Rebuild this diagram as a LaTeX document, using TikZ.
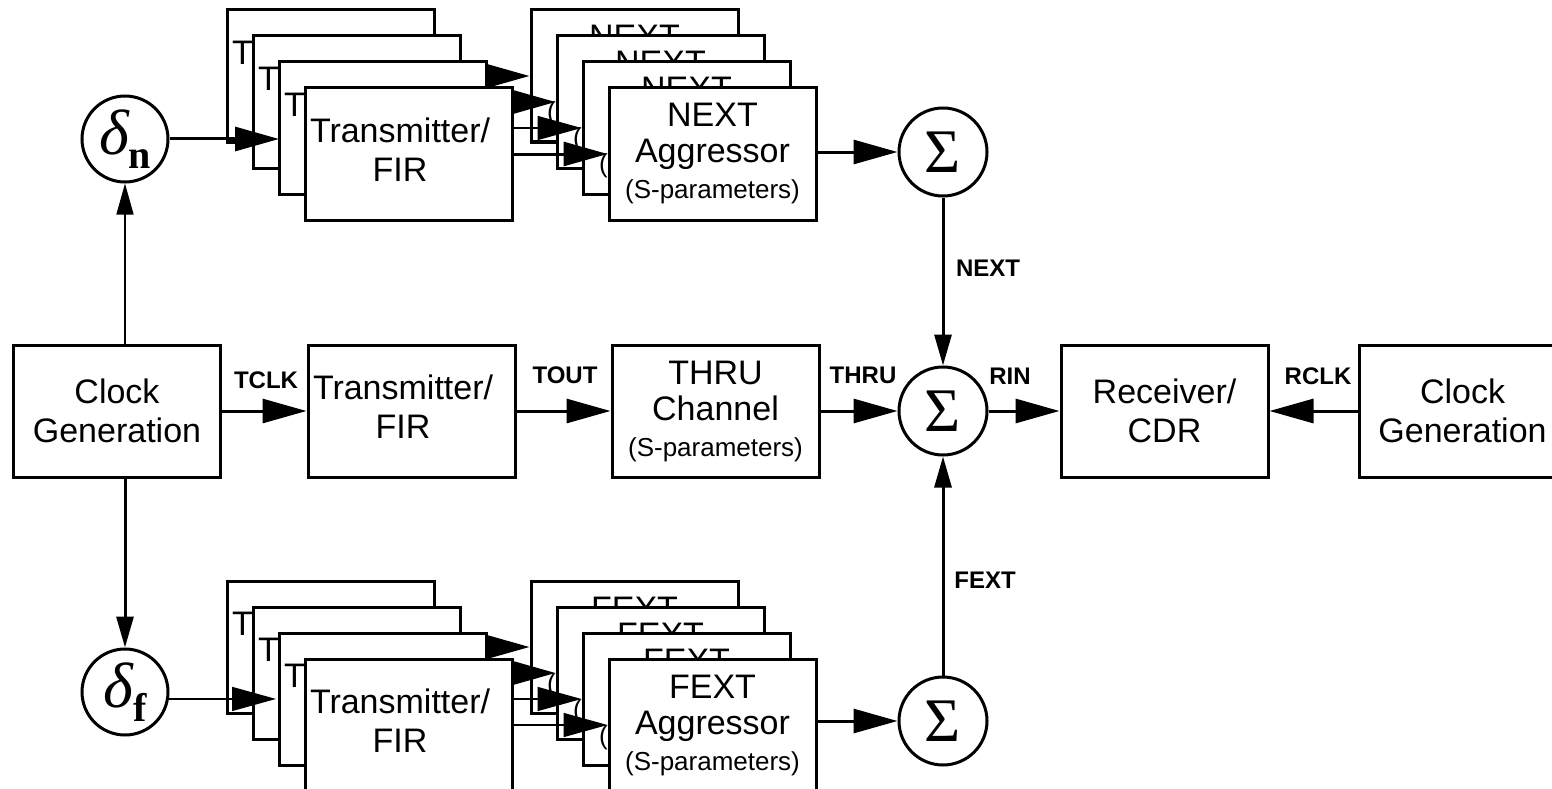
\documentclass[tikz,border=0pt]{standalone}
\usepackage{fontspec}
\setmainfont{Liberation Sans}
\newfontfamily\grk{Liberation Serif}
\usetikzlibrary{arrows.meta}
\newcommand{\sparfont}{\fontsize{26}{30}\selectfont}
\newcommand{\txtext}{\begin{tabular}{@{}c@{}}Transmitter/\\FIR\end{tabular}}
\newcommand{\dltext}[1]{{\itshape δ}\raisebox{-14pt}{\bfseries\fontsize{40}{40}\selectfont #1}}

\begin{document}
\begin{tikzpicture}[x=1pt, y=-1pt,
		blk/.style={draw, line width=3pt, fill=white, minimum width=207pt, minimum height=132pt, inner sep=0pt, align=center, font=\fontsize{34}{39}\selectfont},
		agg/.style={blk, font=\fontsize{34}{36}\selectfont},
		tx/.style={blk, text width=197pt, align=left},
		summ/.style={draw, circle, line width=3pt, fill=white, minimum size=88pt, inner sep=0pt, font=\grk\fontsize{62}{62}\selectfont},
		dlt/.style={summ, minimum size=86pt, font=\grk\fontsize{64}{64}\selectfont},
		sig/.style={font=\bfseries\fontsize{24}{24}\selectfont},
		arr/.style={line width=3pt, -{Triangle[length=44pt,width=24pt]}},
		varr/.style={line width=3pt, -{Triangle[length=31pt,width=17pt]}},
		lite/.style={line width=1.5pt}
	]
	\useasboundingbox (0,0) rectangle (1552,789);

	% through path
	\node[blk] (clkL) at (117,411) {Clock\\Generation};
	\node[tx] (txM) at (411.5,411) {\txtext};
	\node[agg] (thru) at (715.5,411) {THRU\\Channel\\{\sparfont (S-parameters)}};
	\node[summ] (sumM) at (943,411) {Σ};
	\node[blk] (rx) at (1164.5,411) {Receiver/\\CDR};
	\node[blk] (clkR) at (1462.5,411) {Clock\\Generation};

	\draw[arr] (clkL) -- (txM);
	\draw[arr] (txM) -- (thru);
	\draw[arr] (thru) -- (sumM);
	\draw[arr] (sumM) -- (rx);
	\draw[arr] (clkR) -- (rx);

	\node[sig] (tclk) at (266,380) {TCLK};
	\node[sig] (tout) at (565,375) {TOUT};
	\node[sig] (thrul) at (863,375) {THRU};
	\node[sig] (rin) at (1010,376) {RIN};
	\node[sig] (rclk) at (1318,376) {RCLK};

	% NEXT aggressors
	\node[dlt] (dn) at (125,139) {\dltext{n}};
	\node[tx] (t1) at (330.5,76) {\txtext};
	\node[agg] (n1) at (634.5,76) {NEXT\\Aggressor\\{\sparfont (S-parameters)}};
	\draw[arr] (t1) -- (n1);
	\node[tx] (t2) at (356.5,102) {\txtext};
	\node[agg] (n2) at (660.5,102) {NEXT\\Aggressor\\{\sparfont (S-parameters)}};
	\draw[arr] (t2) -- (n2);
	\draw[arr] (dn) -- (dn -| 279,0);
	\node[tx] (t3) at (382.5,128) {\txtext};
	\node[agg] (n3) at (686.5,128) {NEXT\\Aggressor\\{\sparfont (S-parameters)}};
	\draw[arr, lite] (t3) -- (n3);
	\node[tx] (t4) at (408.5,154) {\txtext};
	\node[agg] (n4) at (712.5,154) {NEXT\\Aggressor\\{\sparfont (S-parameters)}};
	\draw[arr] (t4) -- (n4);
	\node[summ] (sumN) at (943,152) {Σ};
	\draw[arr] (n4.east |- sumN) -- (sumN);

	% FEXT aggressors
	\node[dlt] (df) at (125,692) {\dltext{f}};
	\node[tx] (u1) at (330.5,647) {\txtext};
	\node[agg] (f1) at (634.5,647) {FEXT\\Aggressor\\{\sparfont (S-parameters)}};
	\draw[arr] (u1) -- (f1);
	\node[tx] (u2) at (356.5,673) {\txtext};
	\node[agg] (f2) at (660.5,673) {FEXT\\Aggressor\\{\sparfont (S-parameters)}};
	\draw[arr] (u2) -- (f2);
	\draw[arr, lite] (df.-9) -- (df.-9 -| 276,0);
	\node[tx] (u3) at (382.5,699) {\txtext};
	\node[agg] (f3) at (686.5,699) {FEXT\\Aggressor\\{\sparfont (S-parameters)}};
	\draw[arr, lite] (u3) -- (f3);
	\node[tx] (u4) at (408.5,725) {\txtext};
	\node[agg] (f4) at (712.5,725) {FEXT\\Aggressor\\{\sparfont (S-parameters)}};
	\draw[arr, lite] (u4) -- (f4);
	\node[summ] (sumF) at (943,721) {Σ};
	\draw[arr] (f4.east |- sumF) -- (sumF);

	% clocks to delays, crosstalk into receiver
	\draw[varr, lite] (clkL.north -| dn) -- (dn);
	\draw[varr] (clkL.south -| df) -- (df);
	\draw[varr] (sumN) -- (sumM);
	\draw[varr] (sumF) -- (sumM);
	\node[sig] (nextl) at (988,268) {NEXT};
	\node[sig] (fextl) at (985,580) {FEXT};
\end{tikzpicture}
\end{document}
